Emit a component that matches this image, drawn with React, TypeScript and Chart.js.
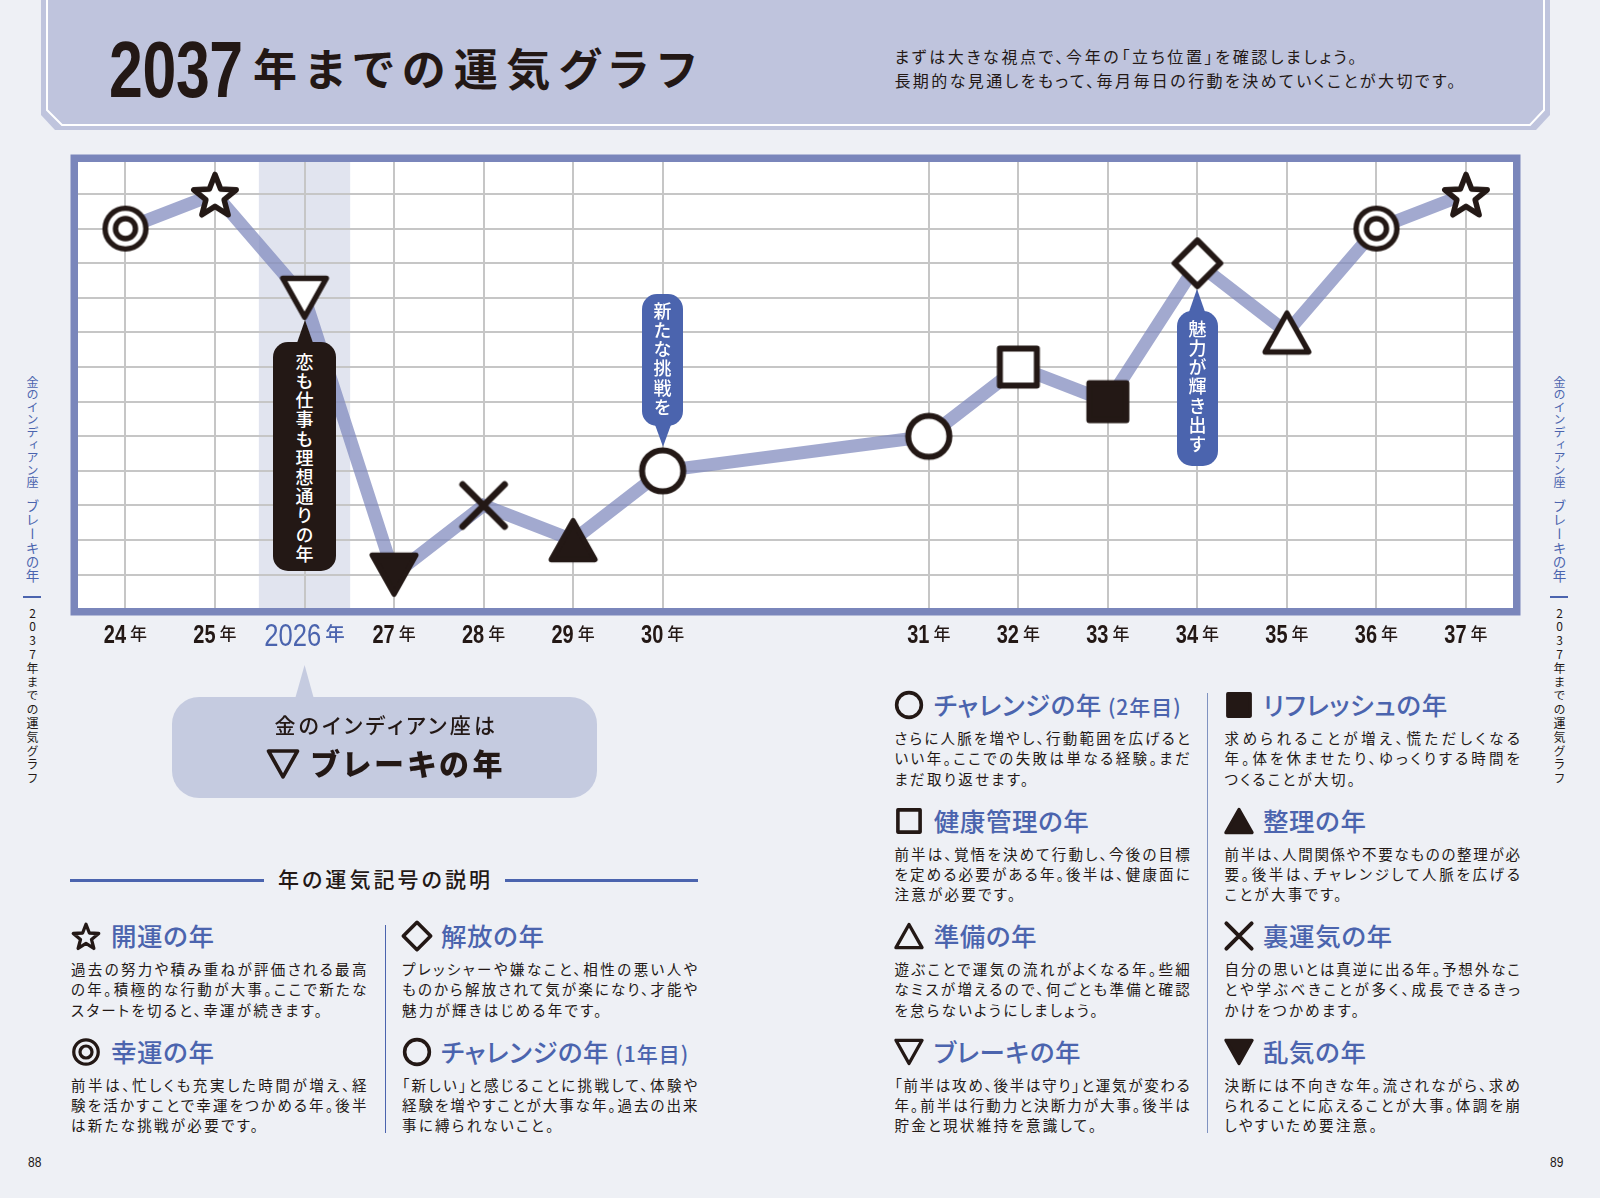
// App.tsx
import { useEffect, useRef } from 'react';
import { Chart, registerables } from 'chart.js';

Chart.register(...registerables);

// datos del grafico
const yearLabels = ['24', '25', '2026', '27', '28', '29', '30', '31', '32', '33', '34', '35', '36', '37'];
const xSlots = [0, 1, 2, 3, 4, 5, 6, 8.973, 9.973, 10.973, 11.973, 12.973, 13.973, 14.973];
const fortuneLevels = [11, 12, 9, 1, 3, 2, 4, 5, 7, 6, 10, 8, 11, 12];
const yearSymbols = ['ring', 'star', 'down', 'downFill', 'cross', 'upFill', 'circle', 'circle', 'square', 'squareFill', 'diamond', 'up', 'ring', 'star'];
const gridLevels = [1, 2, 3, 4, 5, 6, 7, 8, 9, 10, 11, 12];
const currentYearIndex = 2;

const ink = '#231815';
const blue = '#4b64ae';
const soft = '#bfc4dd';
const font = "'Noto Sans CJK JP', sans-serif";
const latin = "'Liberation Sans', sans-serif";
const digitSqueeze = 0.8;

const starPath = () => {
  let d = '';
  for (let i = 0; i < 10; i++) {
    const r = i % 2 === 0 ? 22.3 : 9.6;
    const a = (Math.PI / 5) * i - Math.PI / 2;
    d += `${i === 0 ? 'M' : 'L'}${(30 + r * Math.cos(a)).toFixed(2)} ${(32.75 + r * Math.sin(a)).toFixed(2)}`;
  }
  return d + 'Z';
};
const circlePath = (r: number) => `M${30 - r} 30a${r} ${r} 0 1 0 ${2 * r} 0a${r} ${r} 0 1 0 ${-2 * r} 0Z`;

// simbolos en una caja de 60x60
const symbols: Record<string, { d: string; fill: string; width: number }> = {
  star: { d: starPath(), fill: '#fff', width: 5.5 },
  ring: { d: circlePath(20.4) + circlePath(10), fill: '#fff', width: 5.4 },
  circle: { d: circlePath(20.6), fill: '#fff', width: 6 },
  down: { d: 'M8.25 10.5H51.75L30 49.25Z', fill: '#fff', width: 5.5 },
  downFill: { d: 'M8.25 10.5H51.75L30 49.25Z', fill: ink, width: 5.5 },
  up: { d: 'M30 10.75L51.75 49.4H8.25Z', fill: '#fff', width: 5.5 },
  upFill: { d: 'M30 10.75L51.75 49.4H8.25Z', fill: ink, width: 5.5 },
  cross: { d: 'M9 9L51 51M51 9L9 51', fill: 'none', width: 6.6 },
  square: { d: 'M11.5 11.5H48.5V48.5H11.5Z', fill: '#fff', width: 6 },
  squareFill: { d: 'M11.5 11.5H48.5V48.5H11.5Z', fill: ink, width: 6 },
  diamond: { d: 'M30 7.2L52.8 30L30 52.8L7.2 30Z', fill: '#fff', width: 6 },
};

const makeMarker = (name: string) => {
  const c = document.createElement('canvas');
  c.width = 60;
  c.height = 60;
  const ctx = c.getContext('2d')!;
  const s = symbols[name];
  const p = new Path2D(s.d);
  ctx.lineJoin = 'round';
  ctx.lineCap = 'round';
  ctx.lineWidth = s.width;
  ctx.strokeStyle = ink;
  if (s.fill !== 'none') {
    ctx.fillStyle = s.fill;
    ctx.fill(p);
  }
  ctx.stroke(p);
  return c;
};

// fondo, banda del ano actual, marco y etiquetas con dos tamanos de letra
const pagePlugin = {
  id: 'page',
  beforeDraw(chart: any) {
    const { ctx, chartArea: a, scales } = chart;
    ctx.save();
    ctx.fillStyle = '#fff';
    ctx.fillRect(a.left, a.top, a.width, a.height);
    const cx = scales.x.getPixelForValue(xSlots[currentYearIndex]);
    const half = scales.x.getPixelForValue(xSlots[currentYearIndex] + 0.51) - cx;
    ctx.fillStyle = '#e1e4ef';
    ctx.fillRect(cx - half, a.top, half * 2, a.height);
    ctx.restore();
  },
  afterDraw(chart: any) {
    const { ctx, chartArea: a, scales } = chart;
    ctx.save();
    ctx.strokeStyle = '#7a86bb';
    ctx.lineWidth = 7.5;
    ctx.strokeRect(a.left - 3.75, a.top - 3.75, a.width + 7.5, a.height + 7.5);
    yearLabels.forEach((label, i) => {
      const big = i === currentYearIndex;
      const x = scales.x.getPixelForValue(xSlots[i]);
      const numFont = big ? `32px ${latin}` : `bold 25px ${latin}`;
      const yearFont = big ? `500 19.5px ${font}` : `500 17px ${font}`;
      ctx.font = numFont;
      const w1 = ctx.measureText(label).width * digitSqueeze;
      ctx.font = yearFont;
      const w2 = ctx.measureText('年').width;
      const gap = 4;
      const left = x - (w1 + gap + w2) / 2;
      ctx.fillStyle = big ? blue : ink;
      ctx.textAlign = 'left';
      ctx.textBaseline = 'alphabetic';
      ctx.font = numFont;
      ctx.save();
      ctx.translate(left, a.bottom + (big ? 38 : 35));
      ctx.scale(digitSqueeze, 1);
      ctx.fillText(label, 0, 0);
      ctx.restore();
      ctx.font = yearFont;
      ctx.textBaseline = 'middle';
      ctx.fillText('年', left + w1 + gap, a.bottom + 26);
    });
    ctx.restore();
  },
};

const FortuneChart = () => {
  const canvasRef = useRef<HTMLCanvasElement>(null);

  useEffect(() => {
    if (!canvasRef.current) return;
    const chart = new Chart(canvasRef.current, {
      type: 'line',
      data: {
        datasets: [
          {
            data: xSlots.map((x, i) => ({ x, y: fortuneLevels[i] })),
            borderColor: 'rgba(126, 136, 188, 0.72)',
            borderWidth: 13,
            borderJoinStyle: 'miter',
            tension: 0,
            clip: false,
            pointStyle: yearSymbols.map(makeMarker),
            pointRadius: 30,
            pointHoverRadius: 30,
          },
        ],
      },
      options: {
        responsive: false,
        animation: false,
        events: [],
        layout: { autoPadding: false, padding: { left: 18, right: 27, top: 17, bottom: 57 } },
        plugins: { legend: { display: false }, tooltip: { enabled: false } },
        scales: {
          x: {
            type: 'linear',
            min: -0.53,
            max: 15.498,
            border: { display: false },
            grid: { color: '#c6c6c6', lineWidth: 2, drawTicks: false },
            ticks: { display: false },
            afterBuildTicks: (axis: any) => {
              axis.ticks = xSlots.map(value => ({ value }));
            },
          },
          y: {
            type: 'linear',
            min: 0.0376,
            max: 12.925,
            border: { display: false },
            grid: { color: '#c6c6c6', lineWidth: 2, drawTicks: false },
            ticks: { display: false },
            afterBuildTicks: (axis: any) => {
              axis.ticks = gridLevels.map(value => ({ value }));
            },
          },
        },
      },
      plugins: [pagePlugin],
    } as any);
    return () => chart.destroy();
  }, []);

  return <canvas ref={canvasRef} width={1480} height={520} style={{ position: 'absolute', left: 60, top: 145, width: 1480, height: 520 }} />;
};

// textos de la leyenda
const legendTitles = [
  ['開運の年', '幸運の年'],
  ['解放の年', 'チャレンジの年'],
  ['チャレンジの年', '健康管理の年', '準備の年', 'ブレーキの年'],
  ['リフレッシュの年', '整理の年', '裏運気の年', '乱気の年'],
];
const legendNotes = [['', ''], ['', '(1年目)'], ['(2年目)', '', '', ''], ['', '', '', '']];
const legendSymbols = [
  ['star', 'ring'],
  ['diamond', 'circle'],
  ['circle', 'square', 'up', 'down'],
  ['squareFill', 'upFill', 'cross', 'downFill'],
];
const legendTexts = [
  [
    ['過去の努力や積み重ねが評価される最高', 'の年。積極的な行動が大事。ここで新たな', 'スタートを切ると、幸運が続きます。'],
    ['前半は、忙しくも充実した時間が増え、経', '験を活かすことで幸運をつかめる年。後半', 'は新たな挑戦が必要です。'],
  ],
  [
    ['プレッシャーや嫌なこと、相性の悪い人や', 'ものから解放されて気が楽になり、才能や', '魅力が輝きはじめる年です。'],
    ['「新しい」と感じることに挑戦して、体験や', '経験を増やすことが大事な年。過去の出来', '事に縛られないこと。'],
  ],
  [
    ['さらに人脈を増やし、行動範囲を広げると', 'いい年。ここでの失敗は単なる経験。まだ', 'まだ取り返せます。'],
    ['前半は、覚悟を決めて行動し、今後の目標', 'を定める必要がある年。後半は、健康面に', '注意が必要です。'],
    ['遊ぶことで運気の流れがよくなる年。些細', 'なミスが増えるので、何ごとも準備と確認', 'を怠らないようにしましょう。'],
    ['「前半は攻め、後半は守り」と運気が変わる', '年。前半は行動力と決断力が大事。後半は', '貯金と現状維持を意識して。'],
  ],
  [
    ['求められることが増え、慌ただしくなる', '年。体を休ませたり、ゆっくりする時間を', 'つくることが大切。'],
    ['前半は、人間関係や不要なものの整理が必', '要。後半は、チャレンジして人脈を広げる', 'ことが大事です。'],
    ['自分の思いとは真逆に出る年。予想外なこ', 'とや学ぶべきことが多く、成長できるきっ', 'かけをつかめます。'],
    ['決断には不向きな年。流されながら、求め', 'られることに応えることが大事。体調を崩', 'しやすいため要注意。'],
  ],
];

const columnLeft = [71, 402, 894.4, 1224.5];
const columnTitle = [111, 441, 933.7, 1263];
const columnRows = [
  [936, 1051.7],
  [936, 1051.7],
  [705, 820.7, 936, 1051.7],
  [705, 820.7, 936, 1051.7],
];

const Symbol = ({ name, cx, cy, size }: { name: string; cx: number; cy: number; size: number }) => {
  const s = symbols[name];
  return (
    <svg viewBox="0 0 60 60" width={size} height={size} style={{ position: 'absolute', left: cx - size / 2, top: cy - size / 2 }}>
      <path d={s.d} fill={s.fill === '#fff' ? 'none' : s.fill} stroke={ink} strokeWidth={s.width} strokeLinejoin="round" strokeLinecap="round" />
    </svg>
  );
};

// linea de texto centrada en y; con w se justifica al ancho
const Line = ({ x, y, w, size, color = ink, weight = 400, ls = 0, children }: any) => (
  <div
    style={{
      position: 'absolute',
      left: x,
      top: y - size - 1.7,
      height: size * 2,
      lineHeight: `${size * 2}px`,
      width: w,
      fontFamily: font,
      fontSize: size,
      fontWeight: weight,
      color,
      letterSpacing: ls,
      whiteSpace: w ? 'normal' : 'nowrap',
      textAlign: w ? 'justify' : 'left',
      textAlignLast: w ? 'justify' : 'left',
      textJustify: 'inter-character',
      fontFeatureSettings: '"palt"',
    }}
  >
    {children}
  </div>
);

const Vertical = ({ x, y, size, ls, color, weight = 400, children }: any) => (
  <div
    style={{
      position: 'absolute',
      left: x - size,
      width: size * 2,
      lineHeight: `${size * 2}px`,
      top: y,
      writingMode: 'vertical-rl',
      textOrientation: 'upright',
      whiteSpace: 'nowrap',
      fontFamily: font,
      fontSize: size,
      fontWeight: weight,
      letterSpacing: ls,
      color,
    }}
  >
    {children}
  </div>
);

const Callout = ({ x, top, bottom, width, color, tipY, text, textTop, up = true }: any) => {
  const baseY = up ? top + 4 : bottom - 4;
  return (
    <>
      <svg width={30} height={Math.abs(tipY - baseY)} style={{ position: 'absolute', left: x - 15, top: Math.min(tipY, baseY) }}>
        {up ? <path d={`M15 0L24 ${baseY - tipY}H6Z`} fill={color} /> : <path d={`M6 0H24L15 ${tipY - baseY}Z`} fill={color} />}
      </svg>
      <div style={{ position: 'absolute', left: x - width / 2, top, width, height: bottom - top, background: color, borderRadius: 15 }} />
      <Vertical x={x} y={textTop} size={18} ls={1.2} color="#fff" weight={500}>
        {text}
      </Vertical>
    </>
  );
};

const SideText = ({ x }: { x: number }) => (
  <>
    <Vertical x={x} y={376} size={12} ls={0.6} color={blue}>
      金のインディアン座
    </Vertical>
    <Vertical x={x} y={499} size={13.5} ls={0.5} color={blue}>
      ブレーキの年
    </Vertical>
    <div style={{ position: 'absolute', left: x - 9, top: 596, width: 18, height: 2, background: blue }} />
    <Vertical x={x} y={607} size={12} ls={1.8} color={ink}>
      2037年までの運気グラフ
    </Vertical>
  </>
);

const PageNumber = ({ x, children }: any) => (
  <div style={{ position: 'absolute', left: x, top: 1150, fontFamily: latin, fontSize: 15, lineHeight: '24px', color: ink, transform: `scaleX(${digitSqueeze})`, transformOrigin: 'left center' }}>
    {children}
  </div>
);

export default function App() {
  return (
    <div style={{ position: 'absolute', left: 0, top: 0, width: 1600, height: 1198, overflow: 'hidden', background: '#eef0f5' }}>
      <svg width={1600} height={135} style={{ position: 'absolute', left: 0, top: 0 }}>
        <path d="M41 0V115L55 130H1536L1550 115V0Z" fill={soft} />
        <path d="M47 0V110L62 125H1530L1544 110V0" fill="none" stroke="#fff" strokeWidth={2} />
      </svg>
      <div style={{ position: 'absolute', left: 109, top: 20, fontFamily: latin, fontWeight: 700, fontSize: 79, lineHeight: '100px', letterSpacing: -0.5, color: ink, transform: 'scaleX(0.77)', transformOrigin: 'left center' }}>
        2037
      </div>
      <Line x={253} y={69} w={443} size={44} weight={700}>
        年までの運気グラフ
      </Line>
      <Line x={894.4} y={58} w={462} size={16}>
        まずは大きな視点で、今年の「立ち位置」を確認しましょう。
      </Line>
      <Line x={894.4} y={81.7} w={561} size={16}>
        長期的な見通しをもって、毎月毎日の行動を決めていくことが大切です。
      </Line>

      <SideText x={32} />
      <SideText x={1559} />

      <FortuneChart />

      <Callout x={304.6} top={341.7} bottom={571} width={62.5} color={ink} tipY={320} textTop={353} text="恋も仕事も理想通りの年" />
      <Callout x={662.5} top={294} bottom={426} width={41.5} color={blue} tipY={446.7} up={false} textTop={302} text="新たな挑戦を" />
      <Callout x={1197.4} top={310.7} bottom={465.7} width={41.5} color={blue} tipY={289} textTop={320} text="魅力が輝き出す" />

      <svg width={40} height={34} style={{ position: 'absolute', left: 285, top: 665 }}>
        <path d="M19.6 0L29 34H10Z" fill="#c5cbe0" />
      </svg>
      <div style={{ position: 'absolute', left: 172.4, top: 696.7, width: 424.6, height: 101.3, background: '#c5cbe0', borderRadius: 27 }} />
      <Line x={274.5} y={726} w={220.5} size={21} weight={500}>
        金のインディアン座は
      </Line>
      <Symbol name="down" cx={282.5} cy={764} size={40} />
      <Line x={311} y={764} w={191.5} size={30} weight={900}>
        ブレーキの年
      </Line>

      <div style={{ position: 'absolute', left: 70.4, top: 879, width: 194, height: 2.5, background: blue }} />
      <div style={{ position: 'absolute', left: 505, top: 879, width: 193, height: 2.5, background: blue }} />
      <Line x={278} y={880} w={212} size={21} weight={500}>
        年の運気記号の説明
      </Line>

      <div style={{ position: 'absolute', left: 384.5, top: 925, width: 1, height: 208, background: blue }} />
      <div style={{ position: 'absolute', left: 1206.5, top: 693, width: 1.5, height: 440, background: '#7f92c0' }} />

      {legendTitles.map((titles, c) =>
        titles.map((title, r) => {
          const y = columnRows[c][r];
          return (
            <div key={`${c}-${r}`}>
              <Symbol name={legendSymbols[c][r]} cx={columnLeft[c] + 14.5} cy={y} size={36} />
              <Line x={columnTitle[c]} y={y} size={25.5} ls={0.6} weight={500} color={blue}>
                {title}
                {legendNotes[c][r] && <span style={{ fontSize: 21, letterSpacing: 1, marginLeft: 6 }}>{legendNotes[c][r]}</span>}
              </Line>
              {legendTexts[c][r].map((text, k) => (
                <Line key={k} x={columnLeft[c]} y={y + 34.3 + k * 20.3} w={k < 2 ? 295.8 : undefined} size={14.5} ls={k < 2 ? 0.4 : 2.3}>
                  {text}
                </Line>
              ))}
            </div>
          );
        })
      )}

      <PageNumber x={28}>88</PageNumber>
      <PageNumber x={1550}>89</PageNumber>
    </div>
  );
}
